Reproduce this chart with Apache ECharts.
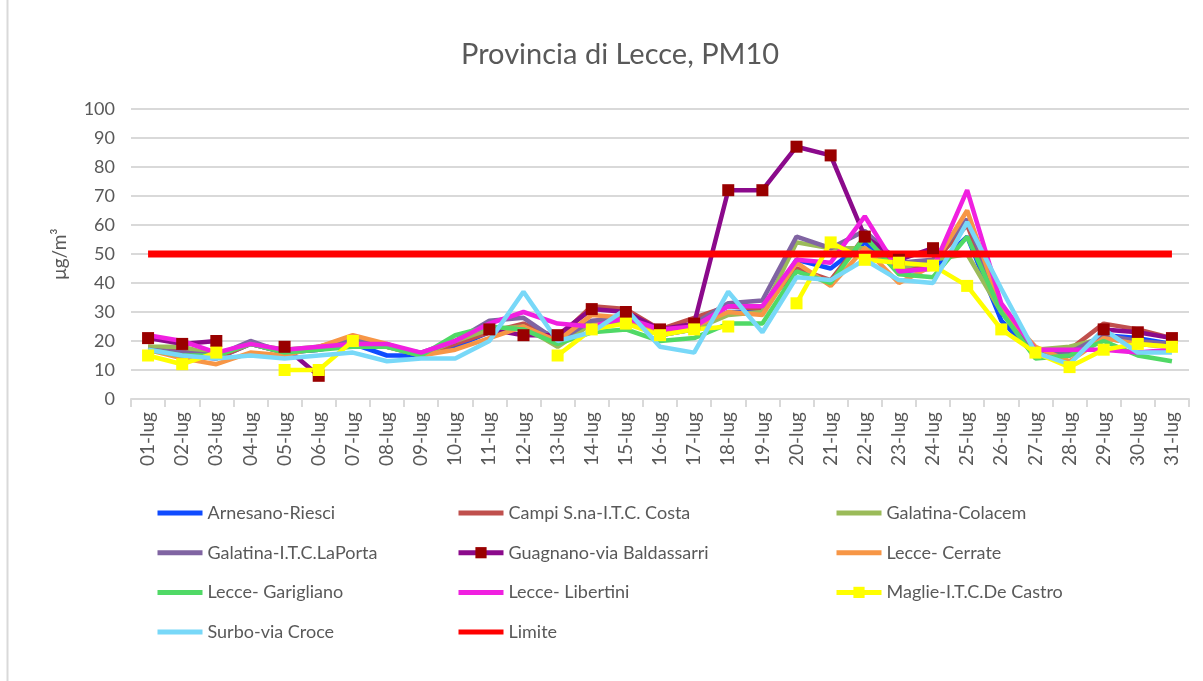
<!DOCTYPE html>
<html>
<head>
<meta charset="utf-8">
<title>Provincia di Lecce, PM10</title>
<script src="https://cdn.jsdelivr.net/npm/echarts@6/dist/echarts.min.js"></script>
<style>
	html, body { margin: 0; padding: 0; background: #fff; }
	#chart { width: 1203px; height: 681px; }
</style>
</head>
<body>
<div id="chart"></div>
<script>
// giorni di luglio
const days = ['01-lug', '02-lug', '03-lug', '04-lug', '05-lug', '06-lug', '07-lug', '08-lug', '09-lug', '10-lug',
	'11-lug', '12-lug', '13-lug', '14-lug', '15-lug', '16-lug', '17-lug', '18-lug', '19-lug', '20-lug',
	'21-lug', '22-lug', '23-lug', '24-lug', '25-lug', '26-lug', '27-lug', '28-lug', '29-lug', '30-lug', '31-lug']

// PM10 µg/m3 per stazione (null = dato mancante)
const arnesano = [17, 15, 14, 19, 16, 17, 19, 15, 15, 18, 23, 25, 20, 26, 28, 22, 24, 30, 30, 48, 45, 54, 44, 45, 56, 27, 15, 15, 22, 21, 19]
const campi = [18, 17, 14, 19, 16, 18, 21, 18, 15, 19, 23, 26, 21, 32, 31, 24, 28, 32, 31, 45, 41, 56, 44, 47, 60, 30, 16, 17, 26, 24, 21]
const colacem = [18, 18, 15, 19, 17, 18, 20, 18, 15, 20, 24, 25, 18, 26, 27, 22, 24, 29, 30, 54, 52, 52, 45, 48, 50, 30, 17, 18, 21, 19, 18]
const laPorta = [17, 16, 15, 20, 16, 17, 21, 18, 16, 20, 27, 28, 20, 27, 28, 22, 26, 33, 34, 56, 52, 58, 47, 48, 62, 31, 16, 16, 22, 20, 19]
const guagnano = [21, 19, 20, null, 18, 8, null, null, null, null, 24, 22, 22, 31, 30, 24, 26, 72, 72, 87, 84, 56, 48, 52, null, null, null, null, 24, 23, 21]
const cerrate = [17, 14, 12, 16, 15, 18, 22, 19, 15, 17, 21, 25, 20, 29, 28, 22, 25, 30, 29, 47, 39, 52, 40, 46, 65, 31, 18, 13, 21, 19, 18]
const garigliano = [17, 15, 15, 19, 16, 17, 18, 18, 15, 22, 25, 24, 19, 23, 24, 20, 21, 26, 26, 44, 40, 56, 43, 42, 56, 30, 14, 15, 20, 15, 13]
const libertini = [22, 20, 16, 19, 17, 18, 19, 19, 16, 20, 26, 30, 26, 25, 28, 24, 25, 32, 32, 48, 47, 63, 44, 45, 72, 33, 17, 17, 17, 16, 17]
const maglie = [15, 12, 16, null, 10, 10, 20, null, null, null, null, null, 15, 24, 26, 22, 24, 25, null, 33, 54, 48, 47, 46, 39, 24, 16, 11, 17, 19, 18]
const surbo = [17, 15, 14, 15, 14, 15, 16, 13, 14, 14, 20, 37, 20, 23, 31, 18, 16, 37, 23, 42, 41, 48, 41, 40, 61, 38, 16, 12, 24, 16, 16]
const limite = days.map(() => 50)

const TEXT_COLOR = '#595959'
const GRID_COLOR = '#d9d9d9'
const FONT = 'Lato, "Open Sans", sans-serif'
const LINE_W = 4.5

/** serie a linea semplice */
function plainLine(name, data, color) {
	return {
		name: name,
		type: 'line',
		data: data,
		symbol: 'none',
		itemStyle: { color: color },
		lineStyle: { color: color, width: LINE_W },
	}
}

/** serie a linea con marcatori quadrati */
function markedLine(name, data, lineColor, markColor) {
	return {
		name: name,
		type: 'line',
		data: data,
		symbol: 'rect',
		symbolSize: 12,
		itemStyle: { color: markColor },
		lineStyle: { color: lineColor, width: LINE_W },
	}
}

/** voce di legenda senza simbolo (solo linea) */
function lineOnly(name) {
	return { name: name, itemStyle: { opacity: 0 } }
}

const legendBase = {
	orient: 'vertical',
	top: 504,
	padding: 0,
	itemWidth: 45,
	itemHeight: 14,
	itemGap: 21.7,
	lineStyle: { width: 5 },
	textStyle: { color: TEXT_COLOR, fontSize: 18, fontFamily: FONT },
}

const myChart = echarts.init(document.getElementById('chart'))
const option = {
	animation: false,
	backgroundColor: '#fff',
	title: {
		text: 'Provincia di Lecce, PM10',
		left: 461,
		top: 40,
		padding: 0,
		textStyle: { color: TEXT_COLOR, fontSize: 29, fontWeight: 'normal', fontFamily: FONT },
	},
	graphic: [
		{
			type: 'line',
			shape: { x1: 7.5, y1: 0, x2: 7.5, y2: 681 },
			style: { stroke: GRID_COLOR, lineWidth: 2 },
		},
	],
	legend: [
		Object.assign({}, legendBase, {
			left: 155,
			data: [lineOnly('Arnesano-Riesci'), lineOnly('Galatina-I.T.C.LaPorta'), lineOnly('Lecce- Garigliano'), lineOnly('Surbo-via Croce')],
		}),
		Object.assign({}, legendBase, {
			left: 456,
			data: [lineOnly('Campi S.na-I.T.C. Costa'), 'Guagnano-via Baldassarri', lineOnly('Lecce- Libertini'), lineOnly('Limite')],
		}),
		Object.assign({}, legendBase, {
			left: 834,
			data: [lineOnly('Galatina-Colacem'), lineOnly('Lecce- Cerrate'), 'Maglie-I.T.C.De Castro'],
		}),
	],
	grid: {
		left: 131,
		right: 14,
		top: 109,
		bottom: 282,
	},
	xAxis: {
		type: 'category',
		data: days,
		boundaryGap: true,
		axisLine: { lineStyle: { color: GRID_COLOR, width: 2 } },
		axisTick: { show: true, interval: 0, length: 8, lineStyle: { color: GRID_COLOR, width: 2 } },
		axisLabel: {
			interval: 0,
			rotate: 90,
			margin: 13,
			color: TEXT_COLOR,
			fontSize: 19,
			fontFamily: FONT,
		},
	},
	yAxis: {
		type: 'value',
		min: 0,
		max: 100,
		interval: 10,
		name: 'μg/m³',
		nameLocation: 'middle',
		nameGap: 62,
		nameRotate: 90,
		nameTextStyle: { color: TEXT_COLOR, fontSize: 19, fontFamily: FONT },
		axisLine: { show: false },
		axisTick: { show: false },
		axisLabel: { color: TEXT_COLOR, fontSize: 18, fontFamily: FONT, margin: 16 },
		splitLine: { lineStyle: { color: GRID_COLOR, width: 2 } },
	},
	series: [
		plainLine('Arnesano-Riesci', arnesano, '#0F4BFF'),
		plainLine('Campi S.na-I.T.C. Costa', campi, '#C0504D'),
		plainLine('Galatina-Colacem', colacem, '#9BBB59'),
		plainLine('Galatina-I.T.C.LaPorta', laPorta, '#8064A2'),
		markedLine('Guagnano-via Baldassarri', guagnano, '#8B0A8B', '#990000'),
		plainLine('Lecce- Cerrate', cerrate, '#F79646'),
		plainLine('Lecce- Garigliano', garigliano, '#50D966'),
		plainLine('Lecce- Libertini', libertini, '#F020E0'),
		markedLine('Maglie-I.T.C.De Castro', maglie, '#FFFF00', '#FFFF00'),
		plainLine('Surbo-via Croce', surbo, '#78D8F8'),
		{
			name: 'Limite',
			type: 'line',
			data: limite,
			symbol: 'none',
			itemStyle: { color: '#FF0000' },
			lineStyle: { color: '#FF0000', width: 7 },
		},
	],
}
myChart.setOption(option)
</script>
</body>
</html>
